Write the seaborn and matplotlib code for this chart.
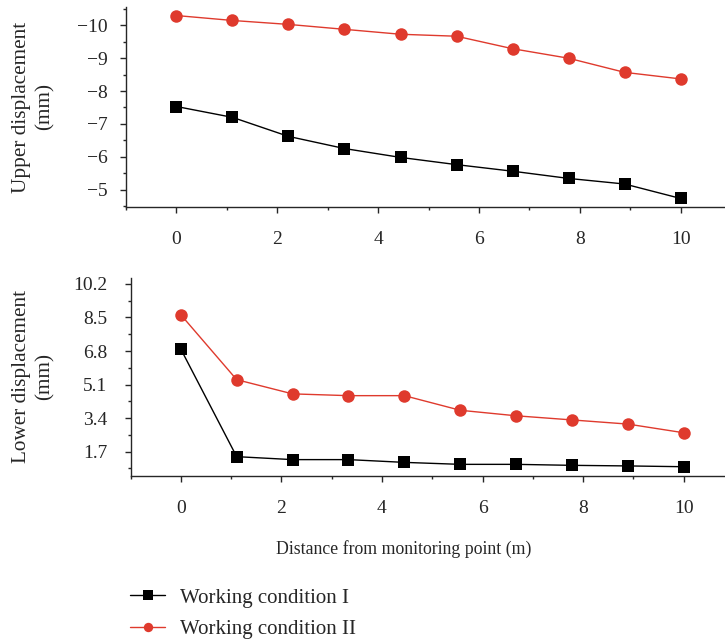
import numpy as np
import pandas as pd
import seaborn as sns
import matplotlib.pyplot as plt
from matplotlib.ticker import MultipleLocator

distance = np.linspace(0, 10, 10)
conditions = ['Working condition I', 'Working condition II']
upper_I = [-7.53, -7.2, -6.62, -6.25, -5.98, -5.76, -5.56, -5.34, -5.17, -4.73]
upper_II = [-10.3, -10.15, -10.03, -9.88, -9.73, -9.67, -9.29, -9.0, -8.57, -8.37]
lower_I = [6.9, 1.45, 1.3, 1.3, 1.16, 1.06, 1.06, 1.01, 0.98, 0.94]
lower_II = [8.64, 5.35, 4.63, 4.54, 4.54, 3.8, 3.52, 3.31, 3.1, 2.66]

rows = []
for cond, up, lo in [(conditions[0], upper_I, lower_I), (conditions[1], upper_II, lower_II)]:
    for d, u, l in zip(distance, up, lo):
        rows.append({'distance': d, 'condition': cond, 'upper': u, 'lower': l})
df = pd.DataFrame(rows)

sns.set_style('ticks')
plt.rcParams['font.family'] = ['Liberation Serif', 'DejaVu Serif']
plt.rcParams['axes.linewidth'] = 1.0

palette = {conditions[0]: 'black', conditions[1]: '#DF3A2D'}
markers = {conditions[0]: 's', conditions[1]: 'o'}

fig = plt.figure(figsize=(7.25, 6.44), dpi=100)
W, H = 725, 644
ax1 = fig.add_axes([126 / W, 1 - 207 / H, (W - 126) / W, 200 / H])
ax2 = fig.add_axes([130.5 / W, 1 - 476 / H, (W - 130.5) / W, 198 / H])

for ax, col in [(ax1, 'upper'), (ax2, 'lower')]:
    sns.lineplot(data=df, x='distance', y=col, hue='condition', style='condition',
                 palette=palette, markers=markers, dashes=False, markersize=9,
                 markeredgewidth=0, linewidth=1.0, ax=ax, legend=(ax is ax1))
    sns.despine(ax=ax)
    ax.set_xlabel('')
    ax.set_ylabel('')
    ax.xaxis.set_major_locator(MultipleLocator(2))
    ax.xaxis.set_minor_locator(MultipleLocator(1))
    ax.tick_params(which='major', direction='out', length=4, width=1, labelsize=14, pad=13)
    ax.tick_params(which='minor', direction='out', length=2.5, width=1)

ax1.tick_params(axis='y', pad=9)
ax2.tick_params(axis='y', pad=12.5)

ax1.set_xlim(-1, 10.88)
ax1.set_ylim(-4.47, -10.56)
ax1.yaxis.set_major_locator(MultipleLocator(1))
ax1.yaxis.set_minor_locator(MultipleLocator(0.5))

ax2.set_xlim(-1, 10.82)
ax2.set_ylim(0.47, 10.5)
ax2.set_yticks([1.7, 3.4, 5.1, 6.8, 8.5, 10.2])
ax2.set_yticklabels(['1.7', '3.4', '5.1', '6.8', '8.5', '10.2'])
ax2.set_yticks(np.arange(0.85, 10.3, 1.7), minor=True)

fig.text(33 / W, 1 - 107 / H, 'Upper displacement\n(mm)', rotation=90, ha='center',
         va='center', multialignment='center', fontsize=15.3, linespacing=1.3)
fig.text(33 / W, 1 - 376 / H, 'Lower displacement\n(mm)', rotation=90, ha='center',
         va='center', multialignment='center', fontsize=15.3, linespacing=1.3)
fig.text(404 / W, 1 - 549 / H, 'Distance from monitoring point (m)', ha='center',
         va='center', fontsize=12.8)

handles, labels = ax1.get_legend_handles_labels()
ax1.get_legend().remove()
fig.legend(handles, labels, loc='upper left', bbox_to_anchor=(130 / W, 1 - 588 / H),
           frameon=False, fontsize=15, handlelength=1.68, handletextpad=0.72,
           labelspacing=0.58, borderaxespad=0, borderpad=0, markerscale=0.75)

fig.savefig('out.png', dpi=100)
